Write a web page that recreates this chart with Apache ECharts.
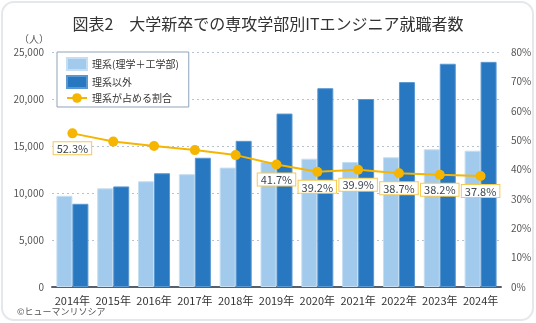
<!DOCTYPE html>
<html><head><meta charset="utf-8">
<script src="https://cdn.jsdelivr.net/npm/echarts@6/dist/echarts.min.js"></script>
<style>html,body{margin:0;padding:0;background:#fff}#c{width:536px;height:323px}</style>
</head><body><div id="c"></div>
<script>
const categories = ['2014年','2015年','2016年','2017年','2018年','2019年','2020年','2021年','2022年','2023年','2024年'];
const rikei = [9700, 10500, 11250, 12000, 12700, 13300, 13650, 13300, 13800, 14650, 14500];
const rikeiIgai = [8850, 10700, 12100, 13750, 15550, 18450, 21150, 20000, 21800, 23750, 23950];
const ratio = [52.3, 49.5, 48.0, 46.6, 44.9, 41.7, 39.2, 39.9, 38.7, 38.2, 37.8];
const labelShown = [true, false, false, false, false, true, true, true, true, true, true];
const leftTicks = {min: 0, max: 25000, interval: 5000};
const rightTicks = {min: 0, max: 80, interval: 10};
const names = ['理系(理学＋工学部)', '理系以外', '理系が占める割合'];
const FONT = '"Noto Sans CJK JP", "Noto Sans", sans-serif';

const chart = echarts.init(document.getElementById('c'), null, {renderer: 'canvas'});
chart.setOption({
  animation: false,
  textStyle: {fontFamily: FONT},
  title: {
    text: '図表2　大学新卒での専攻学部別ITエンジニア就職者数',
    left: 'center', top: 11,
    textStyle: {fontSize: 16, fontWeight: 'normal', color: '#333', fontFamily: FONT}
  },
  graphic: [
    {type: 'rect', shape: {x: 2, y: 2, width: 531, height: 318, r: 12}, style: {fill: 'none', stroke: '#e4e8ec', lineWidth: 2}, z: -10},
    {type: 'text', left: 19, top: 34, style: {text: '（人）', fontSize: 10, fill: '#555', fontFamily: FONT}},
    {type: 'text', left: 17, top: 307, style: {text: '©ヒューマンリソシア', fontSize: 9, fill: '#555', fontFamily: FONT}}
  ],
  legend: {
    orient: 'vertical', left: 57, top: 52,
    padding: [5, 10, 4, 9], itemGap: 4,
    itemWidth: 20, itemHeight: 12,
    backgroundColor: '#fff', borderColor: '#8fa3b8', borderWidth: 1,
    textStyle: {fontSize: 10, color: '#333', fontFamily: FONT},
    data: [
      {name: names[0], icon: 'rect'},
      {name: names[1], icon: 'rect'},
      {name: names[2]}
    ]
  },
  grid: {left: 52, right: 35, top: 52, bottom: 36},
  xAxis: {
    type: 'category', data: categories,
    axisLine: {lineStyle: {color: '#55606c', width: 2}},
    axisTick: {show: false},
    axisLabel: {fontSize: 11, color: '#333', margin: 8, interval: 0, fontFamily: FONT}
  },
  yAxis: [
    {
      type: 'value', min: leftTicks.min, max: leftTicks.max, interval: leftTicks.interval,
      axisLabel: {fontSize: 10, color: '#555', formatter: v => v.toLocaleString('en-US'), fontFamily: FONT},
      axisLine: {show: false}, axisTick: {show: false},
      splitLine: {lineStyle: {color: '#b6c2ce', type: [2, 3], width: 1}}
    },
    {
      type: 'value', min: rightTicks.min, max: rightTicks.max, interval: rightTicks.interval,
      axisLabel: {fontSize: 10, color: '#555', formatter: '{value}%', margin: 10, fontFamily: FONT},
      axisLine: {show: false}, axisTick: {show: false},
      splitLine: {show: false}
    }
  ],
  series: [
    {name: names[0], type: 'bar', data: rikei, barWidth: 16, barGap: '0%',
     itemStyle: {color: '#a2caec', borderColor: '#c6def3', borderWidth: 1}},
    {name: names[1], type: 'bar', data: rikeiIgai, barWidth: 16,
     itemStyle: {color: '#2777c1', borderColor: '#5a98d2', borderWidth: 1}},
    {name: names[2], type: 'line', yAxisIndex: 1,
     data: ratio.map((v, i) => ({value: v, label: {show: labelShown[i]}})),
     symbol: 'circle', symbolSize: 10,
     lineStyle: {color: '#f5b500', width: 2}, itemStyle: {color: '#f5b500'},
     label: {position: 'bottom', distance: 4, formatter: p => p.value.toFixed(1) + '%',
       fontSize: 11, color: '#3c4650', backgroundColor: '#fff', borderColor: '#f7c94e', borderWidth: 1,
       padding: [1, 3, 0, 3], fontFamily: FONT},
     z: 5}
  ]
});
</script></body></html>
